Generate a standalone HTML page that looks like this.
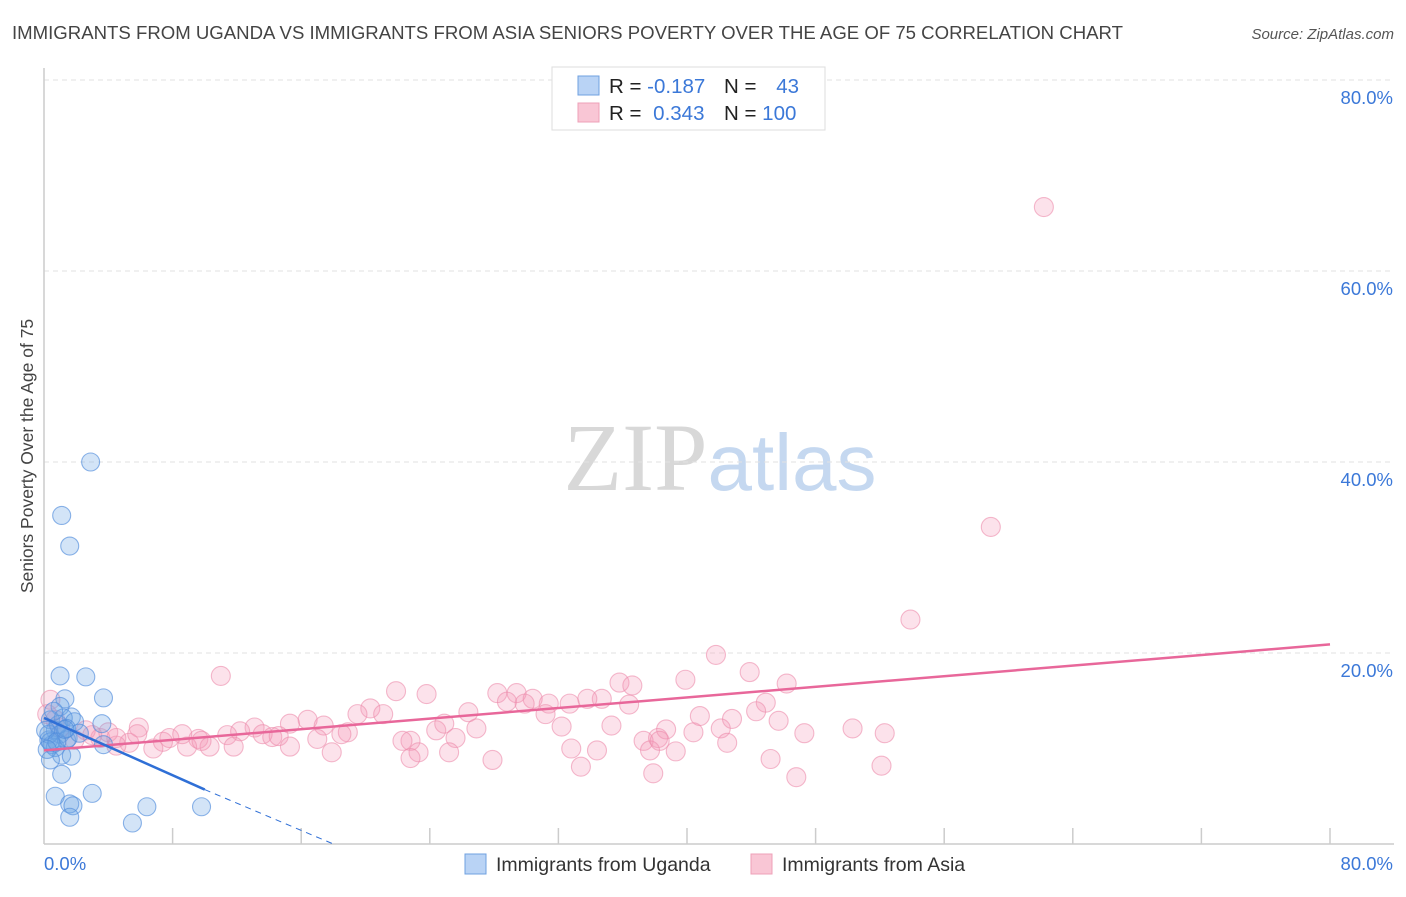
<!DOCTYPE html>
<html><head><meta charset="utf-8"><style>
body{margin:0;background:#fff;font-family:"Liberation Sans",sans-serif}
svg text{font-family:"Liberation Sans",sans-serif}
</style></head><body>
<svg id="chart" width="1406" height="892" xmlns="http://www.w3.org/2000/svg">
<text x="12" y="39" font-size="18.6" fill="#444">IMMIGRANTS FROM UGANDA VS IMMIGRANTS FROM ASIA SENIORS POVERTY OVER THE AGE OF 75 CORRELATION CHART</text>
<text x="1394" y="39" font-size="15" fill="#555" text-anchor="end" font-style="italic">Source: ZipAtlas.com</text>
<text transform="translate(33,456) rotate(-90)" font-size="17.5" fill="#444" text-anchor="middle">Seniors Poverty Over the Age of 75</text>
<text x="720" y="490" font-size="96" text-anchor="middle" font-family="Liberation Serif" fill="#ddd"><tspan fill="#d8d8d8" font-family="Liberation Serif">ZIP</tspan><tspan fill="#c5d8f0" font-family="Liberation Sans" font-size="80">atlas</tspan></text>
<g id="grid"></g><g id="axes"></g><g id="pts"></g><g id="trend"></g>
<g>
<rect x="552" y="67" width="273" height="63" fill="#fff" stroke="#ddd"/>
<rect x="578" y="76" width="21" height="19" fill="#b9d3f5" stroke="#6fa0e0"/>
<rect x="578" y="103" width="21" height="19" fill="#f9c6d5" stroke="#eea0b8"/>
<text x="609" y="93" font-size="20.5" fill="#222">R = <tspan fill="#3b78d8">-0.187</tspan></text>
<text x="724" y="93" font-size="20.5" fill="#222">N =</text><text x="799" y="93" font-size="20.5" fill="#3b78d8" text-anchor="end">43</text>
<text x="609" y="120" font-size="20.5" fill="#222">R = <tspan fill="#3b78d8" dx="6">0.343</tspan></text>
<text x="724" y="120" font-size="20.5" fill="#222">N = <tspan fill="#3b78d8">100</tspan></text>
</g>
<g>
<rect x="465" y="854" width="21" height="20" fill="#b9d3f5" stroke="#6fa0e0"/>
<text x="496" y="871" font-size="19.5" fill="#333">Immigrants from Uganda</text>
<rect x="751" y="854" width="21" height="20" fill="#f9c6d5" stroke="#eea0b8"/>
<text x="782" y="871" font-size="19.5" fill="#333">Immigrants from Asia</text>
</g>
</svg>
<script>
const NS="http://www.w3.org/2000/svg";
const yTicks=[20,40,60,80];
const yTickLabels=["20.0%","40.0%","60.0%","80.0%"];
const xTickVals=[8,16,24,32,40,48,56,64,72,80];
const ugandaX=[2.9,1.1,1.6,1.0,2.6,3.7,1.3,1.0,1.7,3.6,0.4,0.7,0.3,0.5,1.0,1.4,0.7,1.1,1.7,3.7,1.5,1.1,0.7,1.6,1.8,3.0,1.6,6.4,5.5,9.8,0.3,0.4,0.9,0.1,1.2,0.6,1.9,0.8,0.2,1.4,2.2,0.4,1.3];
const ugandaY=[40.0,34.4,31.2,17.6,17.5,15.3,15.2,14.4,13.3,12.6,13.0,11.9,10.9,10.4,11.5,10.9,10.1,9.3,9.2,10.4,11.1,7.3,5.0,4.2,4.0,5.3,2.8,3.9,2.2,3.9,11.5,10.7,12.5,11.9,13.2,13.9,12.8,10.7,9.9,12.1,11.6,8.8,12.0];
const asiaX=[62.2,58.9,53.9,41.8,43.9,11.0,46.2,39.9,35.8,36.6,21.9,23.8,28.2,29.4,30.4,34.7,31.4,32.7,36.4,33.8,44.9,20.3,21.1,19.5,26.4,16.4,17.4,15.3,13.1,13.6,14.2,12.2,11.4,9.6,7.4,5.9,7.8,8.9,10.3,6.8,5.3,4.5,3.5,2.6,1.9,1.0,0.4,0.7,0.2,4.0,3.0,4.5,5.8,8.6,9.8,11.8,14.6,15.3,17.0,18.9,18.5,17.9,22.8,22.3,23.3,22.8,24.4,24.9,25.6,25.2,26.9,27.9,28.8,29.9,31.2,32.2,32.8,33.4,34.4,35.3,37.3,38.2,38.7,39.3,37.9,40.4,40.8,42.1,42.5,42.8,44.3,45.7,45.2,46.8,47.3,50.3,52.1,52.3,37.7,38.3];
const asiaY=[66.7,33.2,23.5,19.8,18.0,17.6,16.8,17.2,16.9,16.6,16.0,15.7,15.8,15.8,15.2,15.2,14.7,14.7,14.6,15.2,14.8,14.2,13.6,13.6,13.8,13.0,12.4,12.6,12.2,11.5,11.2,11.8,11.4,11.0,10.7,12.2,11.1,10.2,10.2,10.0,10.6,10.3,11.1,11.9,10.9,12.2,15.1,13.0,13.6,11.7,11.4,11.1,11.5,11.5,10.8,10.2,11.3,10.2,11.0,11.7,11.5,9.6,10.8,10.8,9.6,9.0,11.9,12.6,11.1,9.6,12.1,8.8,14.9,14.7,13.6,12.3,10.0,8.1,9.8,12.4,10.8,11.1,12.0,9.7,7.4,11.7,13.4,12.1,10.6,13.1,13.9,12.9,8.9,7.0,11.6,12.1,8.2,11.6,9.8,10.8];
const trendU=[0,13.2,10,5.7,18,0];
const trendA=[0,9.8,80,20.9];
const X=v=>44+v*16.075, Y=v=>844-v*9.55;
function el(t,a,p){const e=document.createElementNS(NS,t);for(const k in a)e.setAttribute(k,a[k]);p.appendChild(e);return e;}
const g=document.getElementById('grid'),ax=document.getElementById('axes'),pts=document.getElementById('pts'),tr=document.getElementById('trend');
yTicks.forEach((v,i)=>{
 const l=el('line',{x1:44,x2:1394,y1:Y(v),y2:Y(v),stroke:'#e2e2e2','stroke-dasharray':'5,4'},g);
 
 
 const t=el('text',{x:1393,y:Y(v)+24,'font-size':18.5,fill:'#3b78d8','text-anchor':'end'},g);
 t.textContent=yTickLabels[i];
 
 
});
const yl=el('line',{x1:44,x2:44,y1:68,y2:844,stroke:'#ccc','stroke-width':1.5},ax);


const xl=el('line',{x1:44,x2:1394,y1:844,y2:844,stroke:'#ccc','stroke-width':1.5},ax);


xTickVals.forEach(v=>{
 const t=el('line',{x1:X(v),x2:X(v),y1:828,y2:844,stroke:'#ccc','stroke-width':1.5},ax);
 
 
});
const x0=el('text',{x:44,y:870,'font-size':18.5,fill:'#3b78d8'},ax);x0.textContent='0.0%';


const x1=el('text',{x:1393,y:870,'font-size':18.5,fill:'#3b78d8','text-anchor':'end'},ax);x1.textContent='80.0%';


asiaX.forEach((v,i)=>{
 const c=el('circle',{cx:X(v),cy:Y(asiaY[i]),r:9.5,fill:'rgba(244,150,182,0.28)',stroke:'rgba(236,140,172,0.6)','stroke-width':1.1},pts);
 
 
});
ugandaX.forEach((v,i)=>{
 const c=el('circle',{cx:X(v),cy:Y(ugandaY[i]),r:9,fill:'rgba(110,165,230,0.3)',stroke:'rgba(80,140,220,0.65)','stroke-width':1.1},pts);
 
 
});
const a=el('line',{x1:X(trendA[0]),y1:Y(trendA[1]),x2:X(trendA[2]),y2:Y(trendA[3]),stroke:'#e8679a','stroke-width':2.5},tr);


const u=el('line',{x1:X(trendU[0]),y1:Y(trendU[1]),x2:X(trendU[2]),y2:Y(trendU[3]),stroke:'#2f6fd6','stroke-width':2.5},tr);


const ud=el('line',{x1:X(trendU[2]),y1:Y(trendU[3]),x2:X(trendU[4]),y2:Y(trendU[5]),stroke:'#2f6fd6','stroke-width':1,'stroke-dasharray':'6,5'},tr);


</script>
</body></html>
